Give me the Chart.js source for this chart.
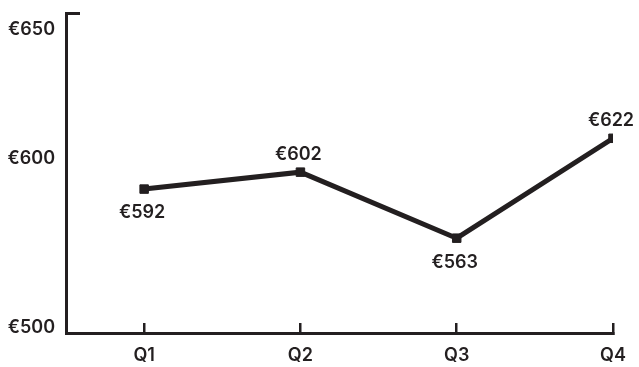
<!DOCTYPE html>
<html>
<head>
<meta charset="utf-8">
<script src="https://cdn.jsdelivr.net/npm/chart.js@4"></script>
<style>
  html, body { margin: 0; padding: 0; background: #fff; }
  #wrap { width: 639px; height: 367px; position: relative; }
</style>
</head>
<body>
<div id="wrap"><canvas id="priceChart"></canvas></div>
<script>
// -- DATA --
const quarters = ['Q1', 'Q2', 'Q3', 'Q4'];
const prices = [592, 602, 563, 622];
const yTickLabels = ['€500', '€600', '€650'];
const yTickValues = [510, 610, 686];

const INK = '#231f20';
const FONT = "Inter, 'DejaVu Sans', sans-serif";
const FONT_SIZE = 18;
const Y_MIN = 507;
const Y_MAX = 696;

// point labels: below for local dips, above otherwise
const pointLabels = {
    id: 'pointLabels',
    afterDatasetsDraw(chart) {
        const ctx = chart.ctx;
        const meta = chart.getDatasetMeta(0);
        ctx.save();
        ctx.font = '600 ' + FONT_SIZE + 'px ' + FONT;
        ctx.fillStyle = INK;
        ctx.textAlign = 'center';
        ctx.textBaseline = 'middle';
        meta.data.forEach((pt, i) => {
            const v = prices[i];
            const prev = i > 0 ? prices[i - 1] : Infinity;
            const next = i < prices.length - 1 ? prices[i + 1] : Infinity;
            const below = v < prev && v < next;
            ctx.fillText('€' + v, pt.x - 2, below ? pt.y + 24 : pt.y - 18);
        });
        ctx.restore();
    }
};

new Chart(document.getElementById('priceChart').getContext('2d'), {
    type: 'line',
    data: {
        datasets: [{
            data: quarters.map((q, i) => ({ x: i, y: prices[i] })),
            borderColor: INK,
            backgroundColor: INK,
            borderWidth: 5,
            tension: 0,
            pointStyle: 'rect',
            pointRadius: 6,
            pointBorderWidth: 1,
            pointBackgroundColor: INK,
            pointBorderColor: INK,
            fill: false
        }]
    },
    options: {
        responsive: true,
        maintainAspectRatio: false,
        animation: false,
        layout: { padding: { top: 13, right: 26, left: 0, bottom: 0 } },
        plugins: {
            legend: { display: false },
            tooltip: { enabled: false }
        },
        scales: {
            x: {
                type: 'linear',
                min: -0.5,
                max: 3,
                afterBuildTicks: (scale) => {
                    scale.ticks = quarters.map((q, i) => ({ value: i }));
                },
                afterFit: (scale) => {
                    scale.height = 34;
                    scale.paddingLeft = 0;
                    scale.paddingRight = 0;
                },
                border: { color: INK, width: 3 },
                grid: { drawOnChartArea: false, tickLength: -10, color: INK, lineWidth: 2.5 },
                ticks: {
                    padding: 22,
                    maxRotation: 0,
                    color: INK,
                    font: { family: FONT, size: FONT_SIZE, weight: '600' },
                    callback: (v) => quarters[v]
                }
            },
            y: {
                min: Y_MIN,
                max: Y_MAX,
                afterBuildTicks: (scale) => {
                    scale.ticks = yTickValues.map(v => ({ value: v })).concat([{ value: Y_MAX }]);
                },
                afterFit: (scale) => {
                    scale.width = 66;
                    scale.paddingTop = 0;
                    scale.paddingBottom = 0;
                },
                border: { color: INK, width: 3 },
                grid: {
                    drawOnChartArea: false,
                    tickLength: -14,
                    lineWidth: 3,
                    color: (c) => (c.tick && c.tick.value === Y_MAX) ? INK : 'rgba(0,0,0,0)'
                },
                ticks: {
                    padding: 25,
                    color: INK,
                    font: { family: FONT, size: FONT_SIZE, weight: '600' },
                    callback: (v) => {
                        const k = yTickValues.indexOf(v);
                        return k >= 0 ? yTickLabels[k] : '';
                    }
                }
            }
        }
    },
    plugins: [pointLabels]
});
</script>
</body>
</html>
